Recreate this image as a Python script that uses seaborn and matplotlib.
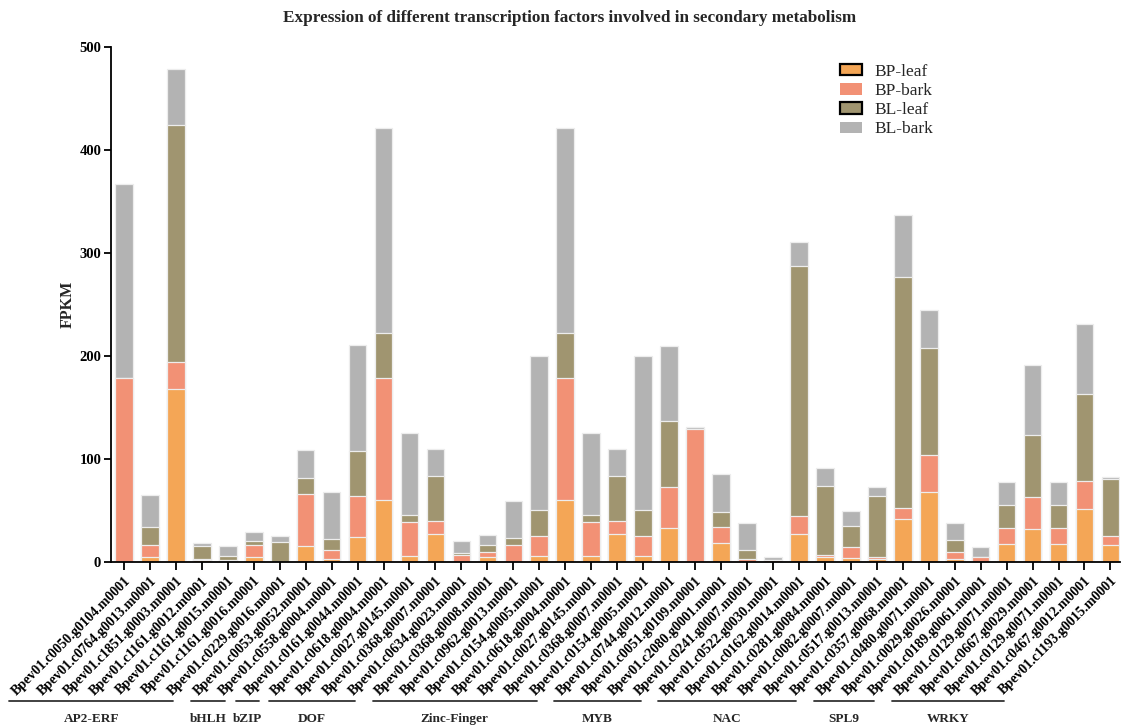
import numpy as np
import pandas as pd
import matplotlib
matplotlib.use("Agg")
import matplotlib.pyplot as plt
import matplotlib.transforms as mtransforms
from matplotlib.patches import Patch
import seaborn as sns

# Gene models, in plotting order
genes = [
    "Bpev01.c0050.g0104.m0001", "Bpev01.c0764.g0013.m0001", "Bpev01.c1851.g0003.m0001",
    "Bpev01.c1161.g0012.m0001", "Bpev01.c1161.g0015.m0001", "Bpev01.c1161.g0016.m0001",
    "Bpev01.c0229.g0016.m0001", "Bpev01.c0053.g0052.m0001", "Bpev01.c0558.g0004.m0001",
    "Bpev01.c0161.g0044.m0001", "Bpev01.c0618.g0004.m0001", "Bpev01.c0027.g0145.m0001",
    "Bpev01.c0368.g0007.m0001", "Bpev01.c0634.g0023.m0001", "Bpev01.c0368.g0008.m0001",
    "Bpev01.c0962.g0013.m0001", "Bpev01.c0154.g0005.m0001", "Bpev01.c0618.g0004.m0001",
    "Bpev01.c0027.g0145.m0001", "Bpev01.c0368.g0007.m0001", "Bpev01.c0154.g0005.m0001",
    "Bpev01.c0744.g0012.m0001", "Bpev01.c0051.g0109.m0001", "Bpev01.c2080.g0001.m0001",
    "Bpev01.c0241.g0007.m0001", "Bpev01.c0522.g0030.m0001", "Bpev01.c0162.g0014.m0001",
    "Bpev01.c0281.g0084.m0001", "Bpev01.c0082.g0007.m0001", "Bpev01.c0517.g0013.m0001",
    "Bpev01.c0357.g0068.m0001", "Bpev01.c0480.g0071.m0001", "Bpev01.c0029.g0026.m0001",
    "Bpev01.c0189.g0061.m0001", "Bpev01.c0129.g0071.m0001", "Bpev01.c0667.g0029.m0001",
    "Bpev01.c0129.g0071.m0001", "Bpev01.c0467.g0012.m0001", "Bpev01.c1193.g0015.m0001",
]

# Transcription factor families and number of genes in each
families = ["AP2-ERF", "bHLH", "bZIP", "DOF", "Zinc-Finger", "MYB", "NAC", "SPL9", "WRKY"]
family_sizes = [7, 2, 1, 4, 7, 4, 6, 3, 5]

# FPKM per sample (stacked segments)
bp_leaf = [0, 5, 167.5, 1.5, 1.3, 4.3, 0, 15.7, 3.3, 24.6, 60.3, 5.6, 27.2, 0, 4.3, 0, 5.9,
           60.3, 5.6, 27.2, 5.9, 32.8, 0, 18.4, 0, 0, 27.5, 4.9, 3.9, 3.0, 42.0, 67.5, 3.3,
           0, 17.4, 31.5, 17.4, 51.8, 16.1]
bp_bark = [179, 11, 26.5, 1.8, 1.0, 11.7, 0, 49.9, 7.8, 39.3, 118.7, 33.4, 12.5, 6.9, 5.2,
           16.7, 19.3, 118.7, 33.4, 12.5, 19.3, 40.3, 129.5, 15.4, 2.6, 2.0, 16.8, 2.0, 10.2,
           2.2, 10.5, 36.4, 6.2, 4.9, 15.4, 31.5, 15.4, 26.6, 8.8]
bl_leaf = [0, 18, 230, 12.4, 3.6, 4.7, 19.7, 15.7, 11.2, 44.0, 43.6, 6.9, 43.9, 2.0, 7.2,
           6.9, 25.0, 43.6, 6.9, 43.9, 25.0, 63.6, 0, 15.1, 9.2, 0, 243.6, 66.9, 21.0, 58.7,
           224.5, 104.0, 12.1, 0, 22.6, 60.6, 22.6, 84.9, 56.1]
bl_bark = [188, 31, 55, 3.0, 9.2, 8.8, 5.2, 27.9, 45.9, 102.6, 199.0, 79.0, 26.2, 11.4, 9.2,
           35.4, 149.8, 199.0, 79.0, 26.2, 149.8, 73.1, 1.3, 36.3, 25.9, 2.9, 22.6, 17.0, 14.4,
           9.2, 60.4, 36.4, 16.1, 9.9, 22.0, 67.9, 22.0, 68.2, 1.3]

samples = ["BP-leaf", "BP-bark", "BL-leaf", "BL-bark"]
colors = ["#F4A656", "#F29175", "#A09570", "#B3B3B3"]

sns.set_theme(style="ticks")
plt.rcParams["font.family"] = ["Liberation Serif", "DejaVu Serif"]
plt.rcParams["font.weight"] = "bold"

pos = np.arange(len(genes))
layers = np.array([bp_leaf, bp_bark, bl_leaf, bl_bark], dtype=float)
cumulative = np.cumsum(layers, axis=0)

df = pd.DataFrame({"pos": pos})
for name, cum in zip(samples, cumulative):
    df[name] = cum

fig = plt.figure(figsize=(11.32, 7.26), dpi=100)
ax = fig.add_axes([0.098, 0.226, 0.891, 0.709])

# Draw from the full stack down so each sample's segment stays visible
for name, col in reversed(list(zip(samples, colors))):
    sns.barplot(data=df, x="pos", y=name, color=col, saturation=1, width=0.68,
                edgecolor="#EDEDED", linewidth=0.9, errorbar=None, ax=ax)

ax.set_xlim(-0.5, 38.35)
ax.set_ylim(0, 500)
ax.set_yticks([0, 100, 200, 300, 400, 500])
ax.set_yticklabels([0, 100, 200, 300, 400, 500], fontsize=10.5, fontweight="bold")
ax.set_xticks(pos)
ax.set_xticklabels(genes, rotation=45, ha="right", rotation_mode="anchor",
                   fontsize=10, fontweight="bold")
ax.set_xlabel("")
ax.set_ylabel("FPKM", fontsize=11.5, fontweight="bold")
ax.yaxis.set_label_coords(-0.035, 0.5)

sns.despine(ax=ax)
for side in ("left", "bottom"):
    ax.spines[side].set_linewidth(1.3)
    ax.spines[side].set_color("black")
ax.tick_params(axis="both", direction="out", length=5, width=1.3, color="black",
               labelcolor="black")
ax.tick_params(axis="x", length=6, pad=3)
ax.tick_params(axis="y", pad=2)

# Family brackets under the gene labels
trans = mtransforms.blended_transform_factory(ax.transData, ax.transAxes)
start = 0
for fam, n in zip(families, family_sizes):
    first, last = start, start + n - 1
    x0 = first - 4.42
    x1 = last - 4.1
    if n == 1:
        x0, x1 = first - 4.69, first - 3.81
    ax.plot([x0, x1], [-0.27, -0.27], color="#333333", lw=1.3, transform=trans,
            clip_on=False)
    ax.text((x0 + x1) / 2, -0.305, fam, transform=trans, ha="center", va="center",
            fontsize=9.5, fontweight="bold")
    start += n

handles = [
    Patch(facecolor=colors[0], edgecolor="black", linewidth=1.6, label=samples[0]),
    Patch(facecolor=colors[1], edgecolor=colors[1], linewidth=0, label=samples[1]),
    Patch(facecolor=colors[2], edgecolor="black", linewidth=1.6, label=samples[2]),
    Patch(facecolor=colors[3], edgecolor=colors[3], linewidth=0, label=samples[3]),
]
leg = ax.legend(handles=handles, loc="upper left", bbox_to_anchor=(0.716, 0.981),
                frameon=False, prop={"family": "Liberation Serif", "size": 12.5,
                                     "weight": "normal"},
                handlelength=1.27, handleheight=0.63, labelspacing=0.18,
                handletextpad=0.7, borderaxespad=0)

fig.suptitle("Expression of different transcription factors involved in secondary metabolism",
             x=0.503, y=0.975, va="center", fontsize=12.3, fontweight="bold")

fig.savefig("out.png", dpi=100, facecolor="white")
